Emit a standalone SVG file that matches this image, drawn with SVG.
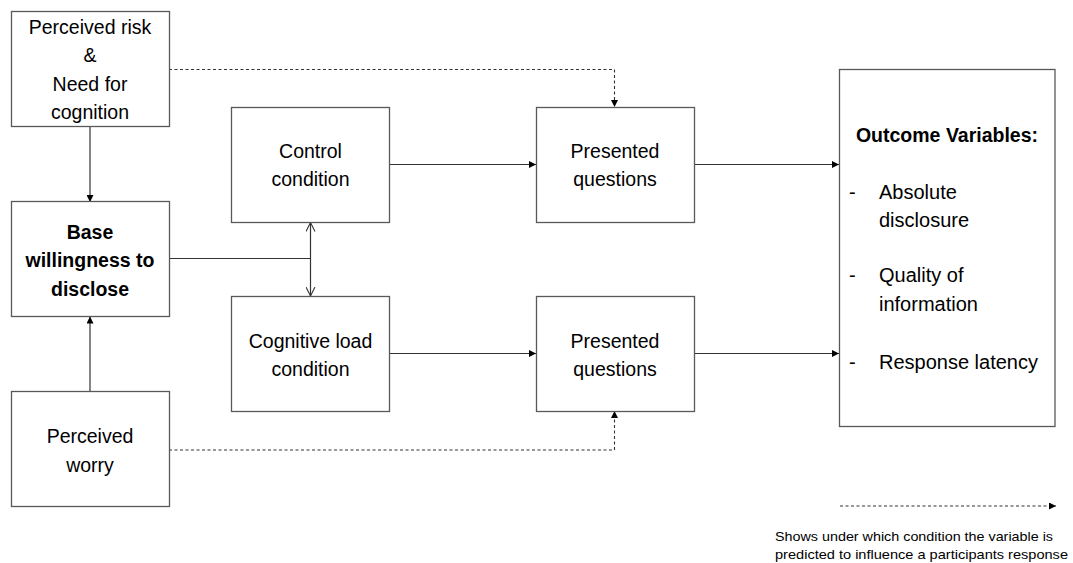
<svg xmlns="http://www.w3.org/2000/svg" width="1073" height="563" viewBox="0 0 1073 563">
<style>
.box{fill:#fff;stroke:#595959;stroke-width:1.3}
.t{font-family:"Liberation Sans",Arial,sans-serif;font-size:19.5px;fill:#000;text-anchor:middle}
.tl{font-family:"Liberation Sans",Arial,sans-serif;font-size:20px;fill:#000}
.b{font-weight:bold}
.c{fill:none;stroke:#333;stroke-width:1.2}
.d{fill:none;stroke:#333;stroke-width:1.1;stroke-dasharray:3 2.5}
.leg{font-family:"Liberation Sans",Arial,sans-serif;font-size:13.4px;fill:#000}
</style>
<defs>
<marker id="ah" viewBox="0 0 10 10" refX="10" refY="5" markerWidth="8" markerHeight="7" markerUnits="userSpaceOnUse" orient="auto"><path d="M0,0 L10,5 L0,10 z" fill="#000"/></marker>
<marker id="oh" viewBox="0 0 10 10" refX="10" refY="5" markerWidth="9" markerHeight="10" markerUnits="userSpaceOnUse" orient="auto-start-reverse"><path d="M0,0 L10,5 L0,10" fill="none" stroke="#333" stroke-width="1.2"/></marker>
</defs>
<g id="connectors">
<path class="c" d="M90,126.5 V202" marker-end="url(#ah)"/>
<path class="c" d="M90,391 V316.5" marker-end="url(#ah)"/>
<path class="c" d="M169,258.5 H310.5"/>
<path class="c" d="M310.5,222.5 V296" marker-start="url(#oh)" marker-end="url(#oh)"/>
<path class="c" d="M389,164.5 H536" marker-end="url(#ah)"/>
<path class="c" d="M389,353.5 H536" marker-end="url(#ah)"/>
<path class="c" d="M694,164.5 H839" marker-end="url(#ah)"/>
<path class="c" d="M694,353.5 H839" marker-end="url(#ah)"/>
<path class="d" d="M169,69.5 H614.5 V107" marker-end="url(#ah)"/>
<path class="d" d="M169,450 H614.5 V411" marker-end="url(#ah)"/>
<path class="d" d="M840,506 H1056" marker-end="url(#ah)"/>
</g>
<g id="perceived-risk">
<rect class="box" x="11.5" y="11.5" width="158" height="115"/>
<text class="t" x="90" y="33.5">Perceived risk</text>
<text class="t" x="90" y="62">&amp;</text>
<text class="t" x="90" y="90.5">Need for</text>
<text class="t" x="90" y="119">cognition</text>
</g>
<g id="base-willingness">
<rect class="box" x="11.5" y="201.5" width="158" height="115"/>
<text class="t b" x="90" y="238.5">Base</text>
<text class="t b" x="90" y="267">willingness to</text>
<text class="t b" x="90" y="295.5">disclose</text>
</g>
<g id="perceived-worry">
<rect class="box" x="11.5" y="391.5" width="158" height="115"/>
<text class="t" x="90" y="443">Perceived</text>
<text class="t" x="90" y="472">worry</text>
</g>
<g id="control-condition">
<rect class="box" x="231.5" y="107.5" width="158" height="115"/>
<text class="t" x="310.5" y="157.5">Control</text>
<text class="t" x="310.5" y="186">condition</text>
</g>
<g id="cognitive-load-condition">
<rect class="box" x="231.5" y="296.5" width="158" height="115"/>
<text class="t" x="310.5" y="347.5">Cognitive load</text>
<text class="t" x="310.5" y="376">condition</text>
</g>
<g id="presented-questions-1">
<rect class="box" x="536.5" y="107.5" width="158" height="115"/>
<text class="t" x="615" y="157.5">Presented</text>
<text class="t" x="615" y="186">questions</text>
</g>
<g id="presented-questions-2">
<rect class="box" x="536.5" y="296.5" width="158" height="115"/>
<text class="t" x="615" y="347.5">Presented</text>
<text class="t" x="615" y="376">questions</text>
</g>
<g id="outcome-variables">
<rect class="box" x="839.5" y="69.5" width="215.5" height="357"/>
<text class="t b" x="947" y="142" font-size="20">Outcome Variables:</text>
<text class="tl" x="849" y="198.5">-</text>
<text class="tl" x="879" y="198.5">Absolute</text>
<text class="tl" x="879" y="227">disclosure</text>
<text class="tl" x="849" y="282">-</text>
<text class="tl" x="879" y="282">Quality of</text>
<text class="tl" x="879" y="311">information</text>
<text class="tl" x="849" y="368.5">-</text>
<text class="tl" x="879" y="368.5">Response latency</text>
</g>
<g id="legend">
<text class="leg" x="775" y="541" textLength="278" lengthAdjust="spacingAndGlyphs">Shows under which condition the variable is</text>
<text class="leg" x="775" y="558.5" textLength="293" lengthAdjust="spacingAndGlyphs">predicted to influence a participants response</text>
</g>
</svg>
